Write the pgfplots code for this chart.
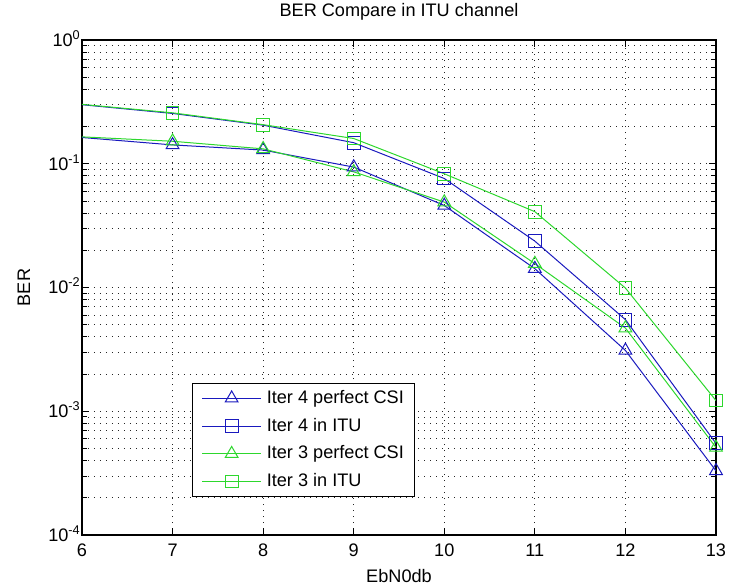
\documentclass[border=0pt]{standalone}
\usepackage{fontspec}
\setmainfont{Liberation Sans}
\usepackage{pgfplots}
\pgfplotsset{compat=1.18}
\definecolor{mblue}{RGB}{25,25,190}
\definecolor{mgreen}{RGB}{45,215,45}
\newcommand\mf{\fontsize{13.6}{16}\selectfont}
\begin{document}
\begin{tikzpicture}
\path[use as bounding box] (-61.5pt,-39pt) rectangle (493.5pt,401.25pt);
\begin{axis}[
  at={(0,0)}, anchor=south west,
  scale only axis, width=475.5pt, height=371.25pt,
  xmin=6, xmax=13, ymin=1e-4, ymax=1, ymode=log,
  xtick={6,7,8,9,10,11,12,13},
  xticklabels={6,7,8,9,10,11,12,13},
  ytick={1e-4,1e-3,1e-2,1e-1,1},
  yticklabels={10\textsuperscript{-4},10\textsuperscript{-3},10\textsuperscript{-2},10\textsuperscript{-1},10\textsuperscript{0}},
  minor ytick={2e-4,3e-4,4e-4,5e-4,6e-4,7e-4,8e-4,9e-4,2e-3,3e-3,4e-3,5e-3,6e-3,7e-3,8e-3,9e-3,2e-2,3e-2,4e-2,5e-2,6e-2,7e-2,8e-2,9e-2,2e-1,3e-1,4e-1,5e-1,6e-1,7e-1,8e-1,9e-1},
  tick align=inside, major tick length=5.5pt, minor tick length=4pt,
  tick style={black, line width=0.65pt},
  axis line style={line width=0.8pt},
  grid=both,
  major grid style={black!85, line width=0.6pt, dash pattern=on 0.7pt off 3.8pt},
  minor grid style={black!85, line width=0.6pt, dash pattern=on 0.7pt off 3.8pt},
  xticklabel style={font=\mf, yshift=-3pt},
  yticklabel style={font=\mf, anchor=base east, yshift=-4.8pt, inner xsep=1pt},
  title={BER Compare in ITU channel},
  title style={font=\mf, at={(axis description cs:0.5,1.0323)}, anchor=base},
  xlabel={EbN0db},
  xlabel style={font=\mf, at={(axis description cs:0.5,-0.095)}, anchor=base},
  ylabel={BER},
  ylabel style={font=\mf, at={(axis description cs:-0.0915,0.5)}, anchor=center},
  legend cell align=left,
  legend style={at={(axis description cs:0.1735,0.0768)}, anchor=south west,
    draw=black, line width=0.75pt, font=\mf, inner xsep=7pt, inner ysep=4.5pt,
    row sep=7.3pt, nodes={text height=9.5pt, text depth=2pt, inner sep=1pt}},
  legend image code/.code={\draw[mark indices={2}] plot coordinates {(0pt,0pt) (22pt,0pt) (44pt,0pt)}; \path (47pt,0pt);},
]
\addplot[mblue, line width=0.75pt, mark=triangle, mark size=5.5pt, mark indices={2,3,4,5,6,7,8}, mark options={solid}]
  coordinates {(6,0.163) (7,0.142) (8,0.129) (9,0.094) (10,0.046) (11,0.0142) (12,0.0031) (13,0.00033)};
\addlegendentry{Iter 4 perfect CSI}
\addplot[mblue, line width=0.75pt, mark=square, mark size=4.8pt, mark indices={2,3,4,5,6,7,8}, mark options={solid}]
  coordinates {(6,0.300) (7,0.255) (8,0.205) (9,0.148) (10,0.076) (11,0.0237) (12,0.0055) (13,0.00055)};
\addlegendentry{Iter 4 in ITU}
\addplot[mgreen, line width=0.75pt, mark=triangle, mark size=5.5pt, mark indices={2,3,4,5,6,7,8}, mark options={solid}]
  coordinates {(6,0.165) (7,0.152) (8,0.132) (9,0.086) (10,0.049) (11,0.0156) (12,0.0047) (13,0.00051)};
\addlegendentry{Iter 3 perfect CSI}
\addplot[mgreen, line width=0.75pt, mark=square, mark size=4.8pt, mark indices={2,3,4,5,6,7,8}, mark options={solid}]
  coordinates {(6,0.302) (7,0.258) (8,0.207) (9,0.160) (10,0.083) (11,0.041) (12,0.0099) (13,0.00122)};
\addlegendentry{Iter 3 in ITU}
\end{axis}
\end{tikzpicture}
\end{document}
